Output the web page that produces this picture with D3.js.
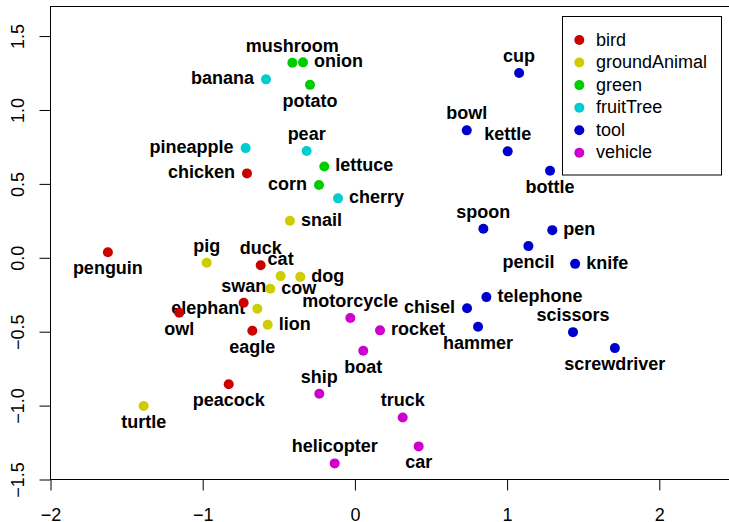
<!DOCTYPE html>
<html>
<head>
<meta charset="utf-8">
<script src="https://cdn.jsdelivr.net/npm/d3@7"></script>
<style>
  html, body { margin: 0; padding: 0; background: #fff; }
  svg { display: block; font-family: "Liberation Sans", Arial, Helvetica, sans-serif; }
</style>
</head>
<body>
<svg id="chart" width="729" height="522"></svg>
<script>
// Word embedding projection: one point per word, coloured by category
const words = [
  "penguin", "duck", "swan", "owl", "eagle", "peacock", "chicken",
  "pig", "cat", "dog", "cow", "elephant", "lion", "turtle", "snail",
  "mushroom", "onion", "potato", "lettuce", "corn",
  "banana", "pineapple", "pear", "cherry",
  "cup", "bowl", "kettle", "bottle", "spoon", "pen", "pencil", "knife",
  "telephone", "chisel", "hammer", "scissors", "screwdriver",
  "motorcycle", "rocket", "boat", "ship", "truck", "car", "helicopter"
];
const xValues = [
  -1.623, -0.619, -0.731, -1.154, -0.674, -0.829, -0.709,
  -0.974, -0.488, -0.359, -0.556, -0.641, -0.573, -1.388, -0.427,
  -0.411, -0.341, -0.295, -0.201, -0.236,
  -0.584, -0.718, -0.317, -0.111,
  1.079, 0.735, 1.004, 1.282, 0.844, 1.297, 1.140, 1.447,
  0.864, 0.737, 0.809, 1.433, 1.708,
  -0.030, 0.165, 0.055, -0.234, 0.314, 0.419, -0.133
];
const yValues = [
  0.037, -0.051, -0.304, -0.372, -0.494, -0.855, 0.571,
  -0.034, -0.124, -0.129, -0.210, -0.345, -0.453, -1.003, 0.250,
  1.319, 1.322, 1.170, 0.618, 0.492,
  1.207, 0.742, 0.722, 0.402,
  1.250, 0.862, 0.720, 0.589, 0.196, 0.187, 0.079, -0.041,
  -0.266, -0.342, -0.467, -0.503, -0.611,
  -0.408, -0.491, -0.629, -0.920, -1.080, -1.276, -1.391
];
const wordGroups = [
  "bird", "bird", "bird", "bird", "bird", "bird", "bird",
  "groundAnimal", "groundAnimal", "groundAnimal", "groundAnimal", "groundAnimal", "groundAnimal", "groundAnimal", "groundAnimal",
  "green", "green", "green", "green", "green",
  "fruitTree", "fruitTree", "fruitTree", "fruitTree",
  "tool", "tool", "tool", "tool", "tool", "tool", "tool", "tool",
  "tool", "tool", "tool", "tool", "tool",
  "vehicle", "vehicle", "vehicle", "vehicle", "vehicle", "vehicle", "vehicle"
];
// Label side for each word: 1 below, 2 left, 3 above, 4 right
const labelSide = [
  1, 3, 3, 1, 1, 1, 2,
  3, 3, 4, 4, 2, 4, 1, 4,
  3, 4, 1, 4, 2,
  2, 2, 3, 4,
  3, 3, 3, 1, 3, 4, 1, 4,
  4, 2, 1, 3, 1,
  3, 4, 1, 3, 3, 1, 3
];
const groupNames = ["bird", "groundAnimal", "green", "fruitTree", "tool", "vehicle"];
const groupColors = ["#CD0000", "#CDCD00", "#00CD00", "#00CDCD", "#0000CD", "#CD00CD"];
const xTicks = [-2, -1, 0, 1, 2];
const yTicks = [-1.5, -1.0, -0.5, 0.0, 0.5, 1.0, 1.5];

const svg = d3.select("#chart");
const plotLeft = 50.5, plotRight = 735.4, plotTop = 6.5, plotBottom = 479.5;

const x = d3.scaleLinear().domain([-2, 2.5]).range([plotLeft, plotRight]);
const y = d3.scaleLinear().domain([-1.5, 1.7]).range([plotBottom, plotTop]);
const color = d3.scaleOrdinal().domain(groupNames).range(groupColors);
const minus = s => s.replace("-", "\u2212");
const tickFont = "'Liberation Sans', Arial, Helvetica, sans-serif";

// Bottom axis
const xAxis = svg.append("g")
  .attr("transform", `translate(0,${plotBottom})`)
  .call(d3.axisBottom(x).tickValues(xTicks).tickSize(11).tickSizeOuter(0)
    .tickFormat(d => minus(String(d))));
xAxis.select(".domain").remove();
xAxis.selectAll(".tick line").attr("stroke", "#000");
xAxis.selectAll(".tick text")
  .attr("y", 41.5).attr("dy", null)
  .attr("fill", "#000")
  .style("font-size", "18px")
  .style("font-family", tickFont);

// Left axis, labels turned to read upward
const yAxis = svg.append("g")
  .attr("transform", `translate(${plotLeft},0)`)
  .call(d3.axisLeft(y).tickValues(yTicks).tickSize(11).tickSizeOuter(0)
    .tickFormat(d => minus(d.toFixed(1))));
yAxis.select(".domain").remove();
yAxis.selectAll(".tick line").attr("stroke", "#000");
yAxis.selectAll(".tick text")
  .attr("x", null).attr("dy", null)
  .attr("text-anchor", "middle")
  .attr("transform", `translate(${24 - plotLeft},0) rotate(-90)`)
  .attr("fill", "#000")
  .style("font-size", "18px")
  .style("font-family", tickFont);

// Plot frame
svg.append("rect")
  .attr("x", plotLeft).attr("y", plotTop)
  .attr("width", plotRight - plotLeft).attr("height", plotBottom - plotTop)
  .attr("fill", "none").attr("stroke", "#000").attr("stroke-width", 1);

const pts = words.map((w, i) => ({
  word: w, x: xValues[i], y: yValues[i], group: wordGroups[i], side: labelSide[i]
}));

// Word labels
const labelOffset = {
  1: { dx: 0, dy: 22, anchor: "middle" },
  2: { dx: -12, dy: 5, anchor: "end" },
  3: { dx: 0, dy: -11, anchor: "middle" },
  4: { dx: 11, dy: 5, anchor: "start" }
};
svg.append("g")
  .selectAll("text")
  .data(pts)
  .join("text")
  .attr("x", d => x(d.x) + labelOffset[d.side].dx)
  .attr("y", d => y(d.y) + labelOffset[d.side].dy)
  .attr("text-anchor", d => labelOffset[d.side].anchor)
  .attr("font-size", 18)
  .attr("font-weight", "bold")
  .attr("fill", "#000")
  .text(d => d.word);

// Points
svg.append("g")
  .selectAll("circle")
  .data(pts)
  .join("circle")
  .attr("cx", d => x(d.x))
  .attr("cy", d => y(d.y))
  .attr("r", 5)
  .attr("fill", d => color(d.group));

// Legend
const legend = svg.append("g");
legend.append("rect")
  .attr("x", 562.5).attr("y", 16.5)
  .attr("width", 159).attr("height", 158.5)
  .attr("fill", "#fff").attr("stroke", "#000").attr("stroke-width", 1);
const rows = legend.selectAll("g.row")
  .data(groupNames)
  .join("g")
  .attr("class", "row")
  .attr("transform", (d, i) => `translate(0,${40 + i * 22.55})`);
rows.append("circle")
  .attr("cx", 579.3).attr("cy", 0).attr("r", 5)
  .attr("fill", d => color(d));
rows.append("text")
  .attr("x", 596).attr("y", 5.5)
  .attr("font-size", 18)
  .attr("fill", "#000")
  .text(d => d);
</script>
</body>
</html>
